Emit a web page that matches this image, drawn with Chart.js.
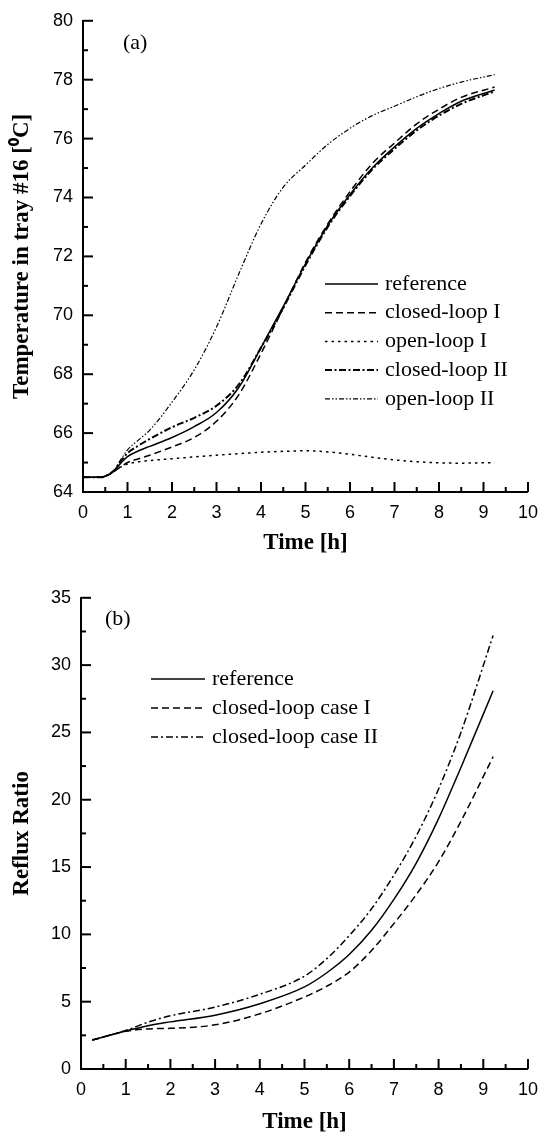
<!DOCTYPE html>
<html>
<head>
<meta charset="utf-8">
<script src="https://cdn.jsdelivr.net/npm/chart.js@4.4.1/dist/chart.umd.min.js"></script>
<style>
  body { margin: 0; background: #fff; }
  .panel { position: relative; width: 548px; }
  #panelA { height: 577px; }
  #panelB { height: 561px; }
</style>
</head>
<body>
<div class="panel" id="panelA"><canvas id="tempChart"></canvas></div>
<div class="panel" id="panelB"><canvas id="refluxChart"></canvas></div>
<script>
// (a) temperature in tray #16 [°C] vs time [h]
const timeA = [0, 0.4, 0.55, 0.7, 0.85, 1, 1.25, 1.5, 2, 2.5, 3, 3.5, 4, 4.5, 5, 5.5, 6, 6.5, 7, 7.5, 8, 8.5, 9.25];
const tempReference = [64.5, 64.5, 64.57, 64.72, 64.98, 65.2, 65.4, 65.55, 65.85, 66.22, 66.7, 67.55, 68.9, 70.3, 71.75, 73.05, 74.1, 75.0, 75.72, 76.35, 76.85, 77.27, 77.65];
const tempClosedI   = [64.5, 64.5, 64.57, 64.7, 64.86, 65.0, 65.13, 65.25, 65.53, 65.85, 66.4, 67.3, 68.7, 70.25, 71.8, 73.1, 74.2, 75.15, 75.85, 76.5, 77.0, 77.4, 77.75];
const tempOpenI     = [64.5, 64.5, 64.57, 64.7, 64.85, 64.95, 65.03, 65.07, 65.13, 65.19, 65.25, 65.3, 65.35, 65.38, 65.4, 65.36, 65.28, 65.18, 65.09, 65.03, 64.99, 64.98, 65.0];
const tempClosedII  = [64.5, 64.5, 64.57, 64.73, 65.05, 65.32, 65.58, 65.8, 66.2, 66.52, 66.93, 67.65, 68.9, 70.25, 71.7, 73.0, 74.05, 74.95, 75.65, 76.28, 76.78, 77.18, 77.6];
const tempOpenII    = [64.5, 64.5, 64.58, 64.75, 65.1, 65.43, 65.77, 66.1, 67.05, 68.15, 69.6, 71.4, 73.1, 74.35, 75.1, 75.8, 76.35, 76.78, 77.1, 77.42, 77.7, 77.92, 78.17];

// (b) reflux ratio vs time [h]
const timeB = [0.25, 1, 1.5, 2, 3, 4, 5, 5.5, 6, 6.5, 7, 7.5, 8, 8.5, 9.22];
const refluxReference = [2.15, 2.83, 3.22, 3.5, 4.0, 4.85, 6.1, 7.15, 8.5, 10.3, 12.6, 15.3, 18.6, 22.4, 28.1];
const refluxClosedI   = [2.15, 2.8, 2.98, 3.02, 3.28, 4.1, 5.35, 6.15, 7.2, 8.8, 10.8, 12.95, 15.4, 18.4, 23.2];
const refluxClosedII  = [2.15, 2.86, 3.48, 3.95, 4.6, 5.55, 6.9, 8.2, 9.9, 11.9, 14.4, 17.3, 20.8, 25.0, 32.2];

const SANS = 'Liberation Sans';
const SERIF = 'Liberation Serif';

const pts = (xs, ys) => xs.map((x, i) => ({ x: x, y: ys[i] }));

function series(label, xs, ys, dash, width) {
  return {
    label: label,
    data: pts(xs, ys),
    borderColor: '#000',
    borderWidth: width || 1.5,
    borderDash: dash,
    pointRadius: 0,
    fill: false,
    cubicInterpolationMode: 'monotone'
  };
}

// tick marks pointing into the plot, long on labelled values
const inwardTicks = {
  id: 'inwardTicks',
  afterDraw(chart, args, opts) {
    const ctx = chart.ctx;
    ctx.save();
    ctx.strokeStyle = '#000';
    ctx.lineWidth = 2;
    ['x', 'y'].forEach(id => {
      const s = chart.scales[id];
      s.ticks.forEach(t => {
        const r = t.value / opts[id];
        const len = Math.abs(r - Math.round(r)) < 1e-6 ? 10 : 5;
        const p = s.getPixelForValue(t.value);
        ctx.beginPath();
        if (id === 'x') { ctx.moveTo(p, s.top); ctx.lineTo(p, s.top - len); }
        else { ctx.moveTo(s.right, p); ctx.lineTo(s.right + len, p); }
        ctx.stroke();
      });
    });
    ctx.restore();
  }
};

// line key inside the plot plus the panel tag
const lineKey = {
  id: 'lineKey',
  afterDraw(chart, args, opts) {
    const ctx = chart.ctx;
    ctx.save();
    ctx.fillStyle = '#000';
    ctx.strokeStyle = '#000';
    ctx.font = '22px "' + SERIF + '"';
    ctx.textBaseline = 'middle';
    chart.data.datasets.forEach((ds, i) => {
      const y = opts.y + i * opts.gap;
      ctx.lineWidth = ds.borderWidth;
      ctx.setLineDash(ds.borderDash || []);
      ctx.beginPath();
      ctx.moveTo(opts.x, y);
      ctx.lineTo(opts.x + opts.len, y);
      ctx.stroke();
      ctx.setLineDash([]);
      ctx.fillText(ds.label, opts.x + opts.len + 7, y);
    });
    ctx.fillText(opts.tag, opts.tagX, opts.tagY);
    ctx.restore();
  }
};

function axes(cfg) {
  return {
    x: {
      type: 'linear', min: 0, max: 10,
      afterFit: s => { s.height = cfg.xHeight; },
      grid: { display: false, drawTicks: false },
      border: { display: true, color: '#000', width: 2 },
      ticks: {
        stepSize: 0.5, autoSkip: false, maxRotation: 0, padding: 10, color: '#000',
        font: { family: SANS, size: 18 },
        callback: v => Number.isInteger(v) ? v : ''
      },
      title: {
        display: true, text: 'Time [h]', color: '#000',
        font: { family: SERIF, size: 23, weight: 'bold' },
        padding: { top: 0, bottom: cfg.xTitlePad }
      }
    },
    y: {
      type: 'linear', min: cfg.yMin, max: cfg.yMax,
      afterFit: s => { s.width = cfg.yWidth; },
      grid: { display: false, drawTicks: false },
      border: { display: true, color: '#000', width: 2 },
      ticks: {
        stepSize: cfg.yMinor, autoSkip: false, padding: 10, color: '#000',
        font: { family: SANS, size: 18 },
        callback: v => (Math.abs(v / cfg.yMajor - Math.round(v / cfg.yMajor)) < 1e-6) ? v : ''
      },
      title: {
        display: true, text: cfg.yTitle, color: '#000',
        font: { family: SERIF, size: 23, weight: 'bold' },
        padding: { top: 8, bottom: 0 }
      }
    }
  };
}

new Chart(document.getElementById('tempChart'), {
  type: 'line',
  data: {
    datasets: [
      series('reference', timeA, tempReference, []),
      series('closed-loop I', timeA, tempClosedI, [7, 4]),
      series('open-loop I', timeA, tempOpenI, [2.5, 4]),
      series('closed-loop II', timeA, tempClosedII, [7, 2.5, 2, 2.5], 2),
      series('open-loop II', timeA, tempOpenII, [5, 2, 1.5, 2, 1.5, 2], 1.2)
    ]
  },
  options: {
    responsive: true,
    maintainAspectRatio: false,
    animation: false,
    layout: { padding: { top: 17, right: 10, left: 0, bottom: 0 } },
    plugins: {
      legend: { display: false },
      tooltip: { enabled: false },
      inwardTicks: { x: 1, y: 2 },
      lineKey: { x: 325, y: 284, gap: 28.7, len: 53, tag: '(a)', tagX: 123, tagY: 43 }
    },
    scales: axes({
      xHeight: 85, xTitlePad: 20, yWidth: 83,
      yMin: 64, yMax: 80, yMinor: 1, yMajor: 2,
      yTitle: 'Temperature in tray #16 [\u2070C]'
    })
  },
  plugins: [inwardTicks, lineKey]
});

new Chart(document.getElementById('refluxChart'), {
  type: 'line',
  data: {
    datasets: [
      series('reference', timeB, refluxReference, []),
      series('closed-loop case I', timeB, refluxClosedI, [7, 4]),
      series('closed-loop case II', timeB, refluxClosedII, [7, 3, 2, 3])
    ]
  },
  options: {
    responsive: true,
    maintainAspectRatio: false,
    animation: false,
    layout: { padding: { top: 17, right: 16, left: 0, bottom: 0 } },
    plugins: {
      legend: { display: false },
      tooltip: { enabled: false },
      inwardTicks: { x: 1, y: 5 },
      lineKey: { x: 151, y: 102, gap: 29, len: 54, tag: '(b)', tagX: 105, tagY: 42 }
    },
    scales: axes({
      xHeight: 69, xTitlePad: 2, yWidth: 81,
      yMin: 0, yMax: 35, yMinor: 2.5, yMajor: 5,
      yTitle: 'Reflux Ratio'
    })
  },
  plugins: [inwardTicks, lineKey]
});
</script>
</body>
</html>
